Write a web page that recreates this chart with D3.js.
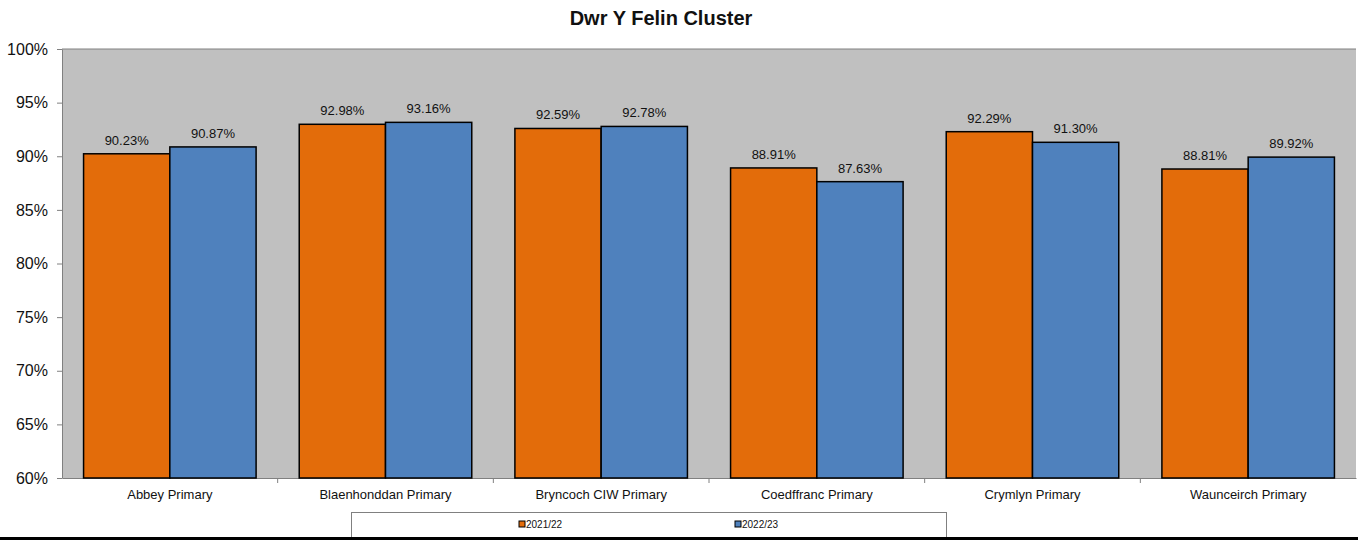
<!DOCTYPE html>
<html>
<head>
<meta charset="utf-8">
<script src="https://cdn.jsdelivr.net/npm/d3@7"></script>
<style>
  body { margin: 0; background: #fff; }
  text { font-family: "Liberation Sans", Arial, sans-serif; fill: #111; }
</style>
</head>
<body>
<div id="chart-area"></div>
<script>
const schools = ['Abbey Primary', 'Blaenhonddan Primary', 'Bryncoch CIW Primary', 'Coedffranc Primary', 'Crymlyn Primary', 'Waunceirch Primary'];
const years = ['2021/22', '2022/23'];
const values2122 = [90.23, 92.98, 92.59, 88.91, 92.29, 88.81];
const values2223 = [90.87, 93.16, 92.78, 87.63, 91.30, 89.92];
const yTicks = [60, 65, 70, 75, 80, 85, 90, 95, 100];
const colors = ['#e36c0a', '#4f81bd'];

const W = 1358, H = 540;
const margin = { top: 49, right: 2, bottom: 62, left: 62 };
const width = W - margin.left - margin.right;
const height = H - margin.top - margin.bottom;

const svg = d3.select('#chart-area')
  .append('svg')
  .attr('width', W)
  .attr('height', H);

// title
svg.append('text')
  .attr('x', 661)
  .attr('y', 25)
  .attr('text-anchor', 'middle')
  .attr('font-size', '20px')
  .attr('font-weight', 'bold')
  .text('Dwr Y Felin Cluster');

const g = svg.append('g')
  .attr('transform', `translate(${margin.left}, ${margin.top})`);

const x = d3.scaleBand()
  .domain(schools)
  .range([0, width]);

const x1 = d3.scaleBand()
  .domain(years)
  .range([0, x.bandwidth()])
  .paddingOuter(0.25);

const y = d3.scaleLinear()
  .domain([60, 100])
  .range([height, 0]);

// plot background
g.append('rect')
  .attr('width', width)
  .attr('height', height)
  .attr('fill', '#c0c0c0');

g.append('line')
  .attr('x1', 0).attr('x2', width)
  .attr('y1', 0).attr('y2', 0)
  .attr('stroke', '#808080');

// y axis
const yAxis = g.append('g')
  .call(d3.axisLeft(y).tickValues(yTicks).tickSize(5).tickSizeOuter(0).tickFormat(d => d + '%'));
yAxis.select('.domain').attr('stroke', '#808080');
yAxis.selectAll('.tick line').attr('stroke', '#808080');
yAxis.selectAll('.tick text')
  .attr('x', -14)
  .attr('font-size', '16px')
  .attr('fill', '#111');

// x axis
const xAxis = g.append('g')
  .attr('transform', `translate(0, ${height})`)
  .call(d3.axisBottom(x).tickSize(0).tickSizeOuter(0));
xAxis.select('.domain').attr('stroke', '#808080');
xAxis.selectAll('.tick text')
  .attr('y', 12)
  .attr('font-size', '13px')
  .attr('fill', '#111');

// category separators
g.append('g')
  .selectAll('line')
  .data(schools.slice(1))
  .join('line')
  .attr('x1', d => x(d)).attr('x2', d => x(d))
  .attr('y1', height).attr('y2', height + 5)
  .attr('stroke', '#808080');

const series = [values2122, values2223];

const groups = g.append('g')
  .selectAll('g')
  .data(schools)
  .join('g')
  .attr('transform', d => `translate(${x(d)}, 0)`);

groups.selectAll('rect')
  .data((d, i) => years.map((yr, k) => ({ yr, v: series[k][i], k })))
  .join('rect')
  .attr('x', d => x1(d.yr))
  .attr('y', d => y(d.v))
  .attr('width', x1.bandwidth())
  .attr('height', d => height - y(d.v))
  .attr('fill', d => colors[d.k])
  .attr('stroke', '#000')
  .attr('stroke-width', 1.5);

groups.selectAll('text.lbl')
  .data((d, i) => years.map((yr, k) => ({ yr, v: series[k][i], k })))
  .join('text')
  .attr('class', 'lbl')
  .attr('x', d => x1(d.yr) + x1.bandwidth() / 2)
  .attr('y', d => y(d.v) - 9)
  .attr('text-anchor', 'middle')
  .attr('font-size', '13px')
  .text(d => d.v.toFixed(2) + '%');

// legend
const legend = svg.append('g');
legend.append('rect')
  .attr('x', 351.5).attr('y', 512.5)
  .attr('width', 595).attr('height', 40)
  .attr('fill', '#fff')
  .attr('stroke', '#808080');

const legendX = [519, 735];
years.forEach((yr, k) => {
  legend.append('rect')
    .attr('x', legendX[k]).attr('y', 521)
    .attr('width', 6).attr('height', 6)
    .attr('fill', colors[k])
    .attr('stroke', '#000');
  legend.append('text')
    .attr('x', legendX[k] + 7)
    .attr('y', 528)
    .attr('font-size', '10px')
    .text(yr);
});

// bottom border
svg.append('line')
  .attr('x1', 0).attr('x2', W)
  .attr('y1', 538.5).attr('y2', 538.5)
  .attr('stroke', '#000')
  .attr('stroke-width', 3);
</script>
</body>
</html>
